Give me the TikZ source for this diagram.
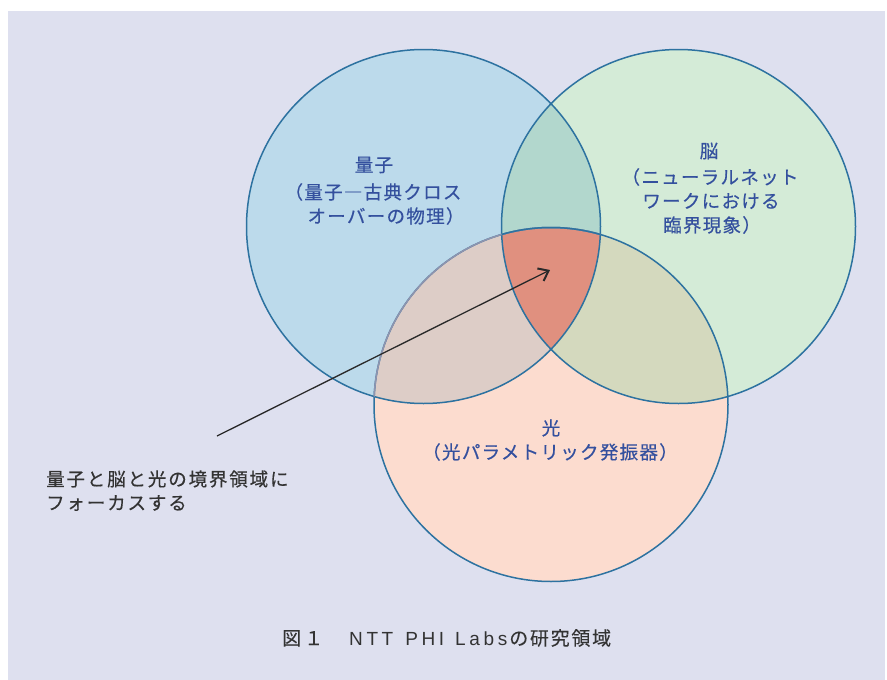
\documentclass[tikz,border=0pt]{standalone}
\usepackage{fontspec}
\newfontfamily\jp[LetterSpace=7,FakeBold=0.45]{Noto Sans CJK JP}
\newfontfamily\jpnote[LetterSpace=10,FakeBold=0.4]{Noto Sans CJK JP}
\newfontfamily\jpcap[LetterSpace=9,FakeBold=0.1]{Noto Sans CJK JP}
\newfontfamily\latcap[LetterSpace=19]{Liberation Sans}
\usetikzlibrary{arrows.meta}
\definecolor{bgc}{HTML}{DEE0EF}
\definecolor{qf}{HTML}{BCDAEB}
\definecolor{bf}{HTML}{D4EBD7}
\definecolor{lf}{HTML}{FCDCCF}
\definecolor{qb}{HTML}{B2D7CD}
\definecolor{ql}{HTML}{DDCDC7}
\definecolor{bl}{HTML}{D4D9BE}
\definecolor{qbl}{HTML}{E0907F}
\definecolor{edge}{HTML}{2D72A0}
\definecolor{edgegray}{HTML}{8F94AE}
\definecolor{tblue}{HTML}{34509E}
\definecolor{tdark}{HTML}{333333}
\tikzset{
  lbl/.style={font=\jp\fontsize{18.5}{20}\selectfont, text=tblue, inner sep=0pt},
  note/.style={font=\jpnote\fontsize{18.5}{20}\selectfont, text=tdark, inner sep=0pt, anchor=west},
  capt/.style={font=\fontsize{19}{20}\selectfont, text=tdark, inner sep=0pt},
  ring/.style={draw=edge, line width=1.5pt},
}
\begin{document}
\begin{tikzpicture}[x=1pt,y=-1pt]
\useasboundingbox (0,0) rectangle (887,680);
\fill[white] (0,0) rectangle (887,680);
\fill[bgc] (8,11) rectangle (885,680);
\coordinate (Q) at (423.5,226.5);
\coordinate (B) at (678.5,226.5);
\coordinate (L) at (551,404.5);
\def\R{177pt}
% base fills
\fill[qf] (Q) circle[radius=\R];
\fill[bf] (B) circle[radius=\R];
\fill[lf] (L) circle[radius=\R];
% pairwise
\begin{scope}\clip (Q) circle[radius=\R]; \fill[qb] (B) circle[radius=\R];\end{scope}
\begin{scope}\clip (Q) circle[radius=\R]; \fill[ql] (L) circle[radius=\R];\end{scope}
\begin{scope}\clip (B) circle[radius=\R]; \fill[bl] (L) circle[radius=\R];\end{scope}
\begin{scope}\clip (Q) circle[radius=\R]; \clip (B) circle[radius=\R]; \fill[qbl] (L) circle[radius=\R];\end{scope}
% outlines
\draw[ring] (Q) circle[radius=\R];
\draw[ring] (B) circle[radius=\R];
\draw[ring] (L) circle[radius=\R];
\begin{scope}\clip (Q) circle[radius=\R];
  \draw[draw=edgegray, line width=1.5pt] (L) circle[radius=\R];
\end{scope}
\begin{scope}\clip (Q) circle[radius=\R]; \clip (B) circle[radius=\R];
  \draw[ring] (L) circle[radius=\R];
\end{scope}
% labels
\node[lbl] (q1) at (374,165) {量子};
\node[lbl] (q2) at (373,192) {（量子―古典クロス};
\node[lbl] (q3) at (386,216) {オーバーの物理）};
\node[lbl] (b1) at (709,151) {脳};
\node[lbl] (b2) at (710,177) {（ニューラルネット};
\node[lbl] (b3) at (711,201) {ワークにおける};
\node[lbl] (b4) at (712,225) {臨界現象）};
\node[lbl] (l1) at (551,428) {光};
\node[lbl] (l2) at (550,452) {（光パラメトリック発振器）};
\node[note] (n1) at (46,479) {量子と脳と光の境界領域に};
\node[note] (n2) at (46,503) {フォーカスする};
\node[capt, anchor=west] (cap) at (282,638) {{\jpcap 図}\hspace{3pt}{\jpcap １}\hspace{26pt}{\latcap NTT}\hspace{12pt}{\latcap PHI}\hspace{11pt}{\latcap Labs}\hspace{2pt}{\jpcap の研究領域}};
% arrow
\coordinate (as) at (217,436);
\coordinate (at) at (550,270);
\draw[tdark!80!black, line width=1.3pt, -{Straight Barb[length=9pt,width=14pt,line width=2pt]}] (as) -- (at);
\end{tikzpicture}
\end{document}
